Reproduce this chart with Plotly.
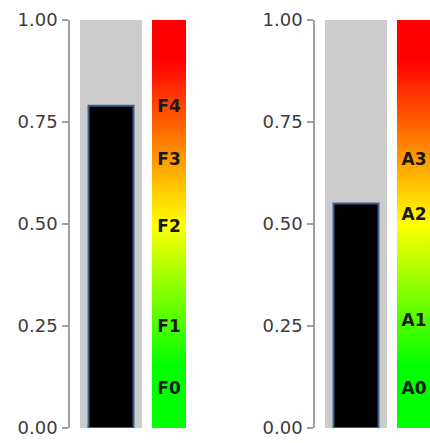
import plotly.graph_objects as go

# ---- data ----
panel_values = [0.79, 0.55]
left_labels = ["F4", "F3", "F2", "F1", "F0"]
left_label_pos = [0.785, 0.655, 0.492, 0.245, 0.093]
right_labels = ["A3", "A2", "A1", "A0"]
right_label_pos = [0.655, 0.52, 0.26, 0.093]
tick_vals = [0, 0.25, 0.5, 0.75, 1.0]
tick_text = ["0.00", "0.25", "0.50", "0.75", "1.00"]

# ---- layout constants (pixels) ----
W, H = 430, 443
TOP, BOT = 20, 428
axis_x = [70, 315]
PANEL_W = 130
FONT = "DejaVu Sans"
grad = [[0, "#00ff00"], [0.15, "#00ff00"], [0.5, "#ffff00"], [0.9, "#ff0000"], [1, "#ff0000"]]

fig = go.Figure()
panels = [(left_labels, left_label_pos), (right_labels, right_label_pos)]
for i, (ax, val, (labs, lpos)) in enumerate(zip(axis_x, panel_values, panels)):
    xr = "x" if i == 0 else "x2"
    yr = "y" if i == 0 else "y2"
    fig.add_trace(go.Bar(x=[41], y=[1.0], width=[62], base=0, xaxis=xr, yaxis=yr,
                         marker=dict(color="#cccccc", line=dict(width=0)),
                         showlegend=False, hoverinfo="skip"))
    fig.add_trace(go.Bar(x=[41], y=[val], width=[45], base=0, xaxis=xr, yaxis=yr,
                         marker=dict(color="#000000", line=dict(color="#3f5f88", width=2)),
                         showlegend=False))
    x0, x1 = 82, 116
    fig.add_trace(go.Scatter(x=[x0, x1, x1, x0, x0], y=[0, 0, 1, 1, 0], xaxis=xr, yaxis=yr,
                             mode="lines", line=dict(width=0), fill="toself",
                             fillgradient=dict(type="vertical", colorscale=grad, start=0, stop=1),
                             showlegend=False, hoverinfo="skip"))
    fig.add_trace(go.Scatter(x=[(x0 + x1) / 2] * len(labs), y=lpos, xaxis=xr, yaxis=yr,
                             mode="text", text=[f"<b>{t}</b>" for t in labs], cliponaxis=False,
                             textfont=dict(family=FONT, size=17, color="#1a1a1a"),
                             showlegend=False, hoverinfo="skip"))

ydom = [(H - BOT) / H, (H - TOP) / H]
yax = dict(range=[0, 1], domain=ydom, tickvals=tick_vals, ticktext=tick_text,
           showgrid=False, zeroline=False, showline=True, linecolor="#a0a0a0",
           linewidth=1.5, ticks="outside", ticklen=6, tickcolor="#a0a0a0", tickwidth=1.5,
           ticklabelstandoff=1,
           tickfont=dict(family=FONT, size=18, color="#3c3c3c"), fixedrange=True,
           automargin=False)
fig.update_layout(
    width=W, height=H, margin=dict(l=0, r=0, t=0, b=0, autoexpand=False), autosize=False,
    paper_bgcolor="white", plot_bgcolor="white", barmode="overlay",
    xaxis=dict(range=[0, PANEL_W], domain=[axis_x[0] / W, (axis_x[0] + PANEL_W) / W],
               visible=False, fixedrange=True),
    xaxis2=dict(range=[0, W - axis_x[1]], domain=[axis_x[1] / W, 1],
                visible=False, fixedrange=True),
    yaxis=dict(**yax, anchor="x"),
    yaxis2=dict(**yax, anchor="x2"),
)
fig.write_html("out.html", config={"responsive": False, "displayModeBar": False},
               post_script="document.body.style.margin='0';document.body.style.overflow='hidden';")
